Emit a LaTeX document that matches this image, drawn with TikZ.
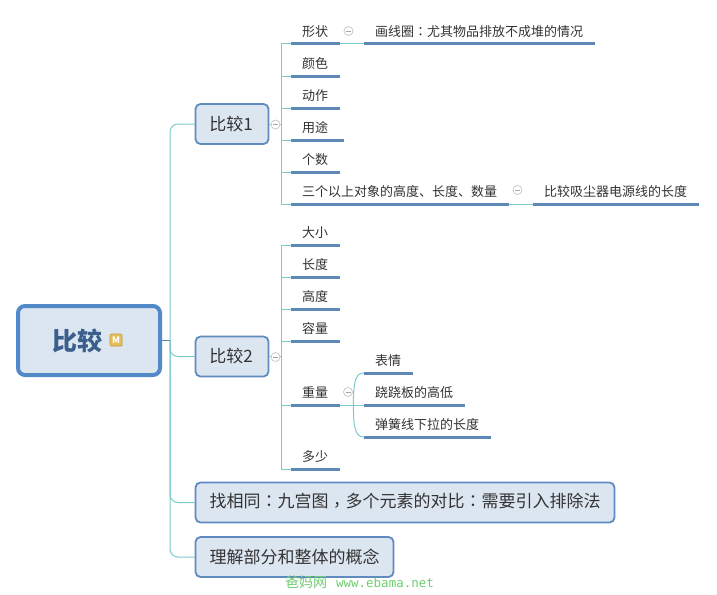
\documentclass[tikz,border=0pt]{standalone}
\usepackage{fontspec}
\setmainfont{Noto Sans CJK SC}
\newfontfamily\tcfont{Noto Sans CJK TC}
\newfontfamily\wmfont{DejaVu Sans Mono}
\definecolor{boxfill}{HTML}{DCE6F1}
\definecolor{boxline}{HTML}{5F8BBF}
\definecolor{rootline}{HTML}{5289C9}
\definecolor{ulinecol}{HTML}{5E88B6}
\definecolor{conncol}{HTML}{7CCBCB}
\definecolor{txtcol}{HTML}{333333}
\definecolor{roottxt}{HTML}{3A5F8C}
\definecolor{wmcol}{HTML}{6FCF6F}
\definecolor{iconfill}{HTML}{E8BE5A}
\definecolor{iconline}{HTML}{C09A3A}
\newcommand{\zhcolon}{{\tcfont ：}}
\newcommand{\zhcomma}{\raisebox{-3.5pt}{\tcfont ，}}
\tikzset{
  x=1pt,y=-1pt,
  rootbox/.style={draw=rootline,line width=4pt,fill=boxfill,rounded corners=7pt,inner sep=0pt,minimum width=142pt,minimum height=69pt},
  mainbox/.style={draw=boxline,line width=1.8pt,fill=boxfill,rounded corners=5pt,inner sep=0pt,minimum height=40pt,text=txtcol,font=\fontsize{17pt}{20pt}\selectfont},
  topic/.style={anchor=south west,inner ysep=0pt,inner xsep=11pt,text width=#1-22pt,minimum height=25pt,text=txtcol,font=\fontsize{13pt}{16pt}\selectfont},
  uline/.style={draw=ulinecol,line width=3pt},
  conn/.style={draw=conncol,line width=1pt},
  rootconn/.style={conn,rounded corners=8pt},
  collapse/.style={circle,draw=gray!45,fill=white,line width=.7pt,minimum size=9pt,inner sep=0pt,
    path picture={\draw[gray!70,line width=.7pt] ([xshift=-2.5pt]path picture bounding box.center) -- ([xshift=2.5pt]path picture bounding box.center);}},
}
\begin{document}
\begin{tikzpicture}
\useasboundingbox (0,0) rectangle (717,594);
\fill[white] (0,0) rectangle (717,594);
% main boxes
\node[rootbox] (root) at (89,340.5) {};
\node[text=roottxt,font=\fontsize{25pt}{28pt}\selectfont\bfseries,inner sep=0pt] (roott) at (77.5,340.5) {比较};
\node[draw=iconline,fill=iconfill,rounded corners=1pt,minimum size=12pt,inner sep=0pt,text=white,font=\fontsize{9pt}{10pt}\selectfont\bfseries,line width=.7pt] (micon) at (116,340) {M};
\node[mainbox,minimum width=73pt] (b1) at (232,124) {\hspace*{-2pt}比较1};
\node[mainbox,minimum width=73pt] (b2) at (232,356.5) {\hspace*{-2pt}比较2};
\node[mainbox,minimum width=419pt] (b3) at (405,502.5) {找相同\zhcolon 九宫图\zhcomma 多个元素的对比\zhcolon 需要引入排除法};
\node[mainbox,minimum width=198pt] (b4) at (294.5,557) {理解部分和整体的概念};
% topics group 1
\node[topic=49pt] (t1) at (291,44) {形状};
\node[topic=49pt] (t2) at (291,76) {颜色};
\node[topic=49pt] (t3) at (291,108) {动作};
\node[topic=53pt] (t4) at (291,140) {用途};
\node[topic=49pt] (t5) at (291,172) {个数};
\node[topic=218pt] (t6) at (291,204) {三个以上对象的高度、长度、数量};
\node[topic=231pt] (s1) at (364,44) {画线圈\zhcolon 尤其物品排放不成堆的情况};
\node[topic=166pt] (s6) at (533,204) {比较吸尘器电源线的长度};
% topics group 2
\node[topic=49pt] (u1) at (291,245) {大小};
\node[topic=49pt] (u2) at (291,277) {长度};
\node[topic=49pt] (u3) at (291,309) {高度};
\node[topic=49pt] (u4) at (291,341) {容量};
\node[topic=49pt] (u5) at (291,405) {重量};
\node[topic=49pt] (u6) at (291,469) {多少};
\node[topic=49pt] (v1) at (364,373) {表情};
\node[topic=101pt] (v2) at (364,405) {跷跷板的高低};
\node[topic=127pt] (v3) at (364,437) {弹簧线下拉的长度};
% root connectors
\foreach \t in {b1,b2,b3,b4}{
  \draw[rootconn] (root.east) ++(8,0) |- (\t.west);
}
\draw[draw=ulinecol,line width=1pt] (root.east) -- ++(8,0);
% branch connectors
\foreach \t in {t1,t2,t3,t4,t5,t6}{
  \draw[conn] (b1.east) -- ++(11.6,0) |- (\t.south west);
}
\foreach \t in {u1,u2,u3,u4,u5,u6}{
  \draw[conn] (b2.east) -- ++(11.6,0) |- (\t.south west);
}
\draw[conn] (t1.south east) -- (s1.south west);
\draw[conn] (t6.south east) -- (s6.south west);
\draw[conn] (u5.south east) -- (v2.south west);
\draw[conn] (u5.south east) ++(13,0) .. controls +(0,-22) and +(-9,0) .. (v1.south west);
\draw[conn] (u5.south east) ++(13,0) .. controls +(0,22) and +(-9,0) .. (v3.south west);
% underlines
\foreach \t in {t1,t2,t3,t4,t5,t6,s1,s6,u1,u2,u3,u4,u5,u6,v1,v2,v3}{
  \draw[uline] (\t.south west) -- (\t.south east);
}
% collapse marks
\node[collapse] (c1) at (275.5,124.5) {};
\node[collapse] (c2) at (275.5,357) {};
\node[collapse] (c3) at (348.5,31) {};
\node[collapse] (c4) at (517.5,190) {};
\node[collapse] (c5) at (348,392) {};
% watermark
\node[text=wmcol,font=\fontsize{14pt}{15pt}\selectfont,inner sep=0pt] (wm) at (359.5,582) {爸妈网\hspace{9pt}{\wmfont\fontsize{12.5pt}{15pt}\selectfont www.ebama.net}};
\end{tikzpicture}
\end{document}
